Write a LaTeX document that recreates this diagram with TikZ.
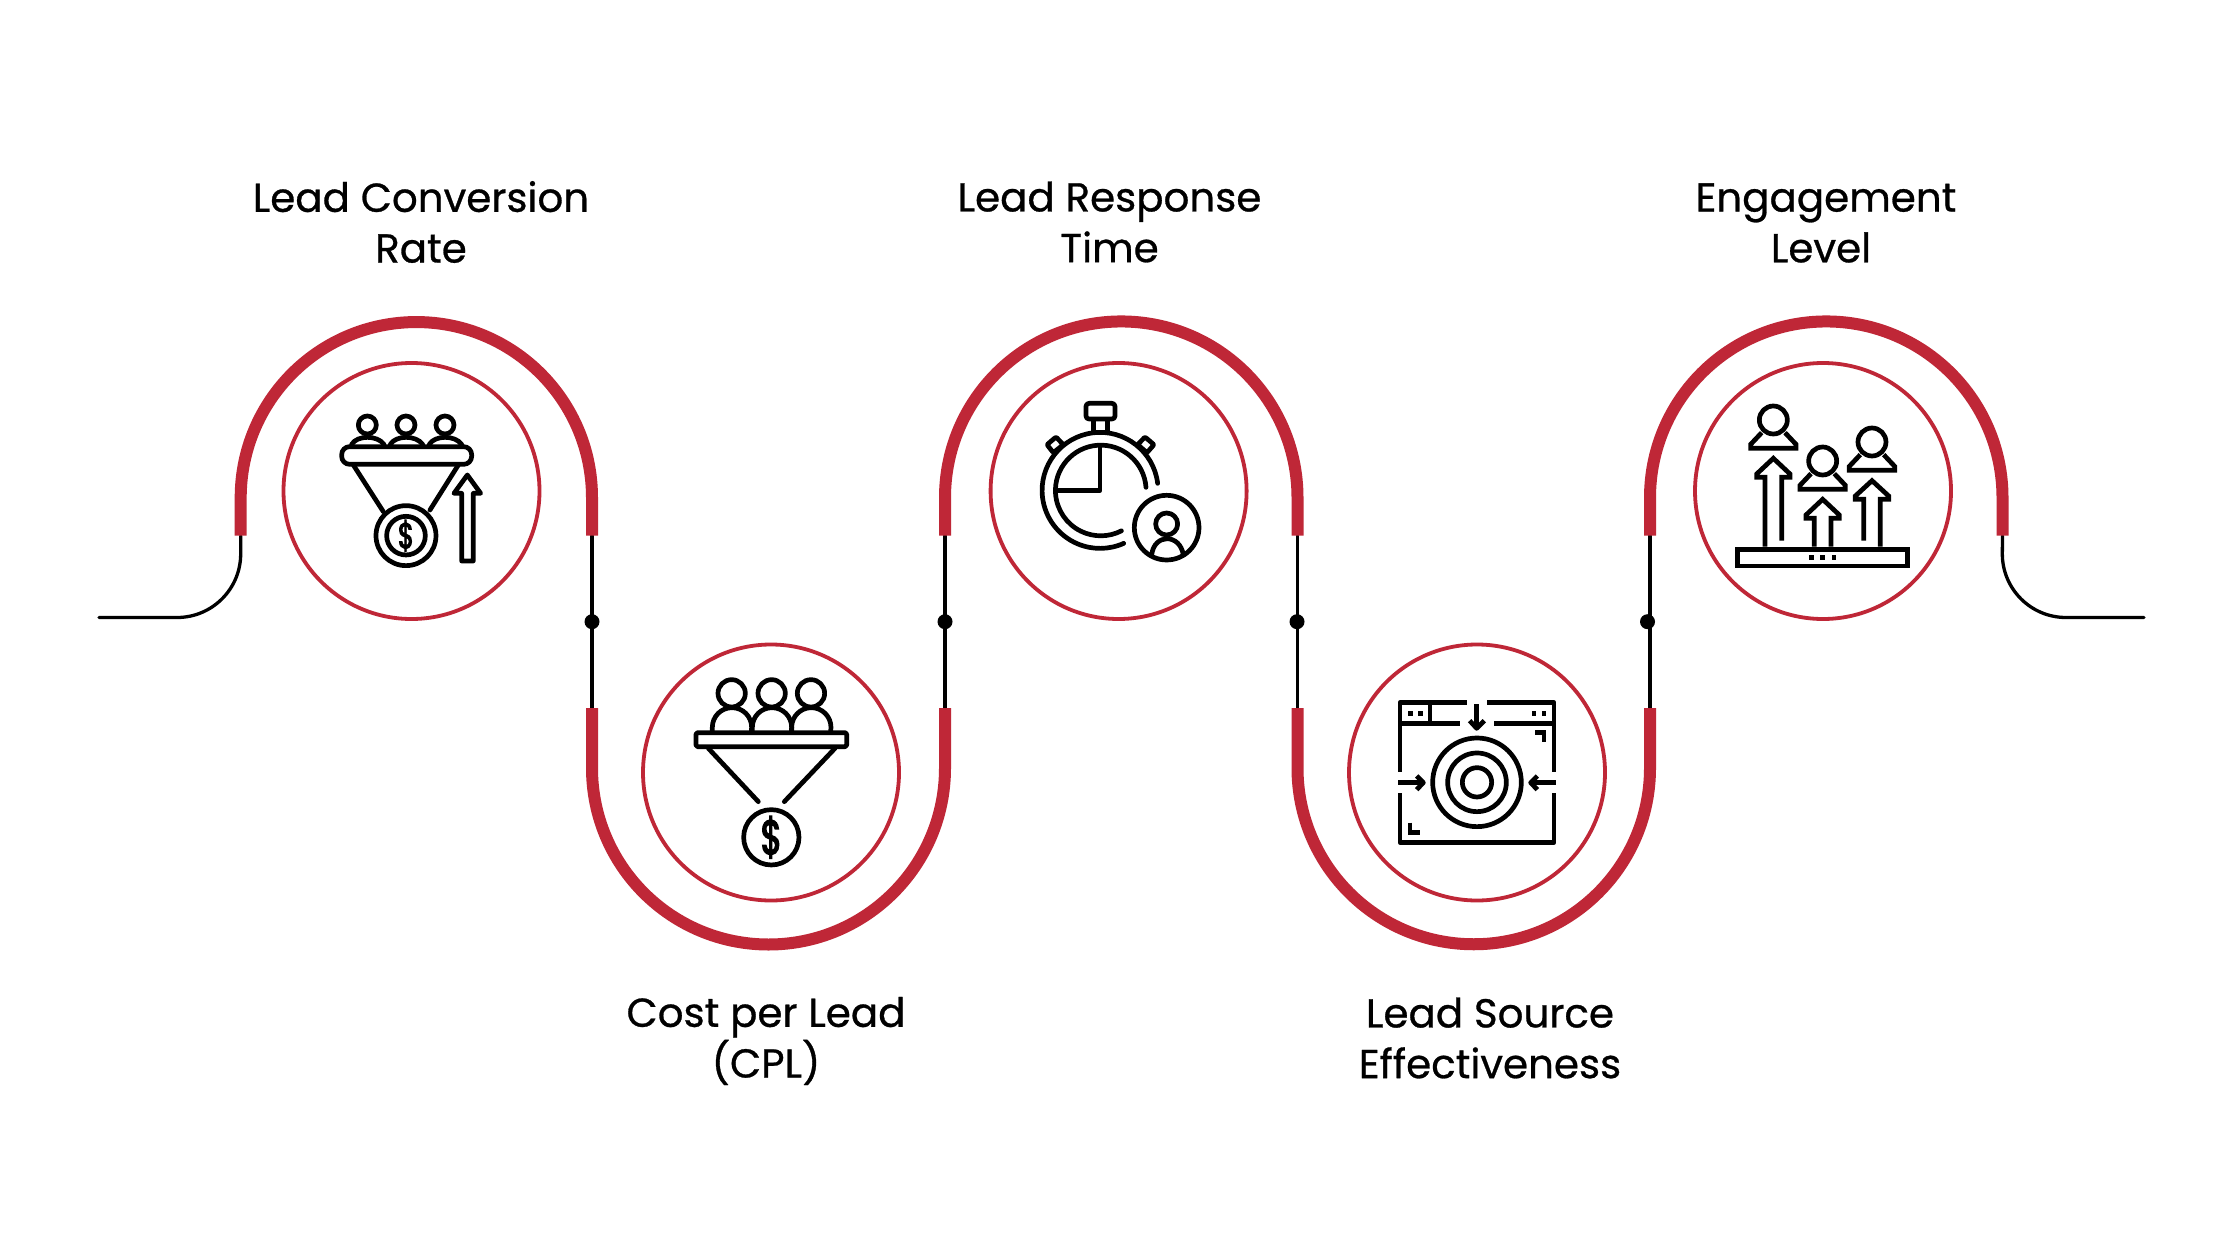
\documentclass[tikz,border=0pt]{standalone}
\usepackage{fontspec}
\setmainfont{Poppins}[FakeBold=0.7]
\newfontfamily\dollarfont{Poppins}[FakeBold=3.5]
\definecolor{wred}{HTML}{BF2737}
\tikzset{
  redarc/.style={draw=wred,line width=12pt,line cap=butt},
  thinline/.style={draw=black,line width=3.3pt,line cap=round},
  ring/.style={draw=wred,line width=3.8pt},
  junction/.style={circle,fill=black,inner sep=0pt,minimum size=15pt},
  lbl/.style={align=center,font=\fontsize{40.4}{50.7}\selectfont,text=black,inner sep=0pt},
  ico/.style={draw=black,line width=4.7pt,line join=round,line cap=round},
  zoomed/.style={x=0.3333pt,y=-0.3333pt},
}
\begin{document}
\begin{tikzpicture}[x=1pt,y=-1pt]
\useasboundingbox (0,0) rectangle (2240,1260);
\fill[white] (0,0) rectangle (2240,1260);
% named points of the wave
\coordinate (s0) at (99,617.5);
\coordinate (s1) at (2144,617.5);
\coordinate (a0) at (240.7,535.7);
\coordinate (a1) at (592,535.7);
\coordinate (a2) at (945,535.7);
\coordinate (a3) at (1297.5,535.7);
\coordinate (a4) at (1650,535.7);
\coordinate (a5) at (2002.5,535.7);
\coordinate (b1) at (592,708);
\coordinate (b2) at (945,708);
\coordinate (b3) at (1297.5,708);
\coordinate (b4) at (1650,708);
% thin connectors
\draw[thinline] (s0) -- ++(78,0) arc[start angle=90,end angle=0,radius=63.7] -- (a0);
\draw[thinline] (s1) -- ++(-78,0) arc[start angle=90,end angle=180,radius=63.7] -- (a5);
\draw[thinline] (a1) -- (b1);
\draw[thinline] (a2) -- (b2);
\draw[thinline] (a3) -- (b3);
\draw[thinline] (a4) -- (b4);
\node[junction] (j1) at (592,621.7) {};
\node[junction] (j2) at (945,621.7) {};
\node[junction] (j3) at (1297,621.7) {};
\node[junction] (j4) at (1647.5,621.7) {};
% red arches
\draw[redarc] (a0) -- ++(0,-38) arc[start angle=180,end angle=360,radius=175.65] -- (a1);
\draw[redarc] (a2) -- ++(0,-38) arc[start angle=180,end angle=360,radius=176.25] -- (a3);
\draw[redarc] (a4) -- ++(0,-38) arc[start angle=180,end angle=360,radius=176.25] -- (a5);
\draw[redarc] (b1) -- ++(0,60) arc[start angle=180,end angle=0,radius=176.5] -- (b2);
\draw[redarc] (b3) -- ++(0,60) arc[start angle=180,end angle=0,radius=176.25] -- (b4);
% rings
\node[circle,ring,minimum size=256pt,inner sep=0pt] (c1) at (411.5,491) {};
\node[circle,ring,minimum size=256pt,inner sep=0pt] (c2) at (771,772.5) {};
\node[circle,ring,minimum size=256pt,inner sep=0pt] (c3) at (1118.6,491) {};
\node[circle,ring,minimum size=256pt,inner sep=0pt] (c4) at (1477,772.5) {};
\node[circle,ring,minimum size=256pt,inner sep=0pt] (c5) at (1823,491) {};
% labels
\node[lbl] (t1) at (421,222) {Lead Conversion\\Rate};
\node[lbl] (t2) at (766,1041) {Cost per Lead\\(CPL)};
\node[lbl] (t3) at (1109.5,222) {Lead Response\\Time};
\node[lbl] (t4) at (1490,1038) {Lead Source\\Effectiveness};
\node[lbl] (t5) at (1826,223) {Engagement\\\hspace*{-10pt}Level};
% icon 1
\begin{scope}[shift={(270,350)},zoomed]
\foreach \hx in {292,408,525} {
  \draw[ico] (\hx,225) circle[radius=27];
  \draw[ico] (\hx-47,283) .. controls (\hx-30,255) and (\hx+30,255) .. (\hx+50,283);
}
\draw[ico,fill=white,rounded corners=8pt] (215,290) rectangle (605,343);
\draw[ico] (250,345) -- (340,485);
\draw[ico] (565,345) -- (480,480);
\draw[ico] (408,557) circle[radius=90];
\draw[ico] (408,557) circle[radius=58];
\node[font=\dollarfont\fontsize{36}{36}\selectfont,inner sep=0pt] (d1) at (408,557) {\scalebox{.72}[1]{\$}};
\draw[ico] (592,375) -- (632,430) -- (610,430) -- (610,633) -- (575,633) -- (575,430) -- (552,430) -- cycle;
\end{scope}
% icon 2
\begin{scope}[shift={(630,640)},zoomed]
\foreach \hx in {305,425,543} {
  \draw[ico] (\hx,160) circle[radius=41];
  \draw[ico] (\hx-58,275) -- (\hx-58,262) arc[start angle=180,end angle=360,radius=59] -- (\hx+59,275);
}
\draw[ico,fill=white,rounded corners=1.5pt] (198,278) rectangle (650,320);
\draw[ico] (235,325) -- (385,485);
\draw[ico] (615,325) -- (463,485);
\draw[ico] (424,592) circle[radius=83];
\node[font=\dollarfont\fontsize{48}{48}\selectfont,inner sep=0pt] (d2) at (424,592) {\scalebox{.72}[1]{\$}};
\end{scope}
% icon 3
\begin{scope}[shift={(1000,370)},zoomed]
\draw[ico] (473,340) arc[start angle=-7,end angle=-294,radius=174];
\draw[ico] (438,352) arc[start angle=-4,end angle=-297,radius=136];
\draw[ico,line cap=butt] (300,228) -- (300,361) -- (172,361);
\draw[ico,rounded corners=3pt] (258,100) rectangle (345,147);
\draw[ico] (280,150) -- (280,185);
\draw[ico] (322,150) -- (322,185);
\draw[ico,rounded corners=1pt] (141,224) -- (168,201) -- (190,224) -- (160,248) -- cycle;
\draw[ico,rounded corners=1pt] (462,224) -- (435,201) -- (413,224) -- (441,248) -- cycle;
\draw[ico] (500,473) circle[radius=97];
\draw[ico] (500,462) circle[radius=33];
\draw[ico] (455,555) .. controls (462,490) and (540,490) .. (550,555);
\end{scope}
% icon 4
\begin{scope}[shift={(1370,680)},zoomed]
\draw[ico,line cap=butt] (90,275) -- (90,68) -- (292,68);
\draw[ico,line cap=butt] (352,68) -- (552,68) -- (552,275);
\draw[ico,line cap=butt] (90,340) -- (90,487) -- (552,487) -- (552,340);
\draw[ico,line cap=butt] (90,130) -- (270,130);
\draw[ico,line cap=butt] (372,130) -- (552,130);
\draw[ico,line cap=butt] (180,68) -- (180,130);
\foreach \dx in {122,152,492,522} \fill (\dx-7,93) rectangle (\dx+7,107);
\draw[ico,line cap=butt] (320,72) -- (320,142);
\draw[ico,line cap=butt] (299,122) -- (320,145) -- (343,122);
\draw[ico,line cap=butt] (85,308) -- (155,308);
\draw[ico,line cap=butt] (140,288) -- (160,308) -- (140,329);
\draw[ico,line cap=butt] (557,308) -- (487,308);
\draw[ico,line cap=butt] (502,288) -- (482,308) -- (502,329);
\draw[ico] (321,307) circle[radius=133];
\draw[ico] (321,307) circle[radius=88];
\draw[ico] (321,307) circle[radius=44];
\draw[ico,line cap=butt,line join=miter] (495,158) -- (522,158) -- (522,187);
\draw[ico,line cap=butt,line join=miter] (120,428) -- (120,457) -- (150,457);
\end{scope}
% icon 5
\begin{scope}[shift={(1710,380)},zoomed]
\draw[ico,line join=miter] (83,508) rectangle (593,558);
\foreach \dx in {304,338,372} \fill (\dx-7,526) rectangle (\dx+7,540);
\foreach \ox/\oy in {0/0,148/123,296/66} {
  \begin{scope}[shift={(\ox,\oy)}]
  \draw[ico] (190,120) circle[radius=42];
  \draw[ico,line cap=butt,line join=miter] (155,158) -- (122,193) -- (122,205) -- (258,205) -- (258,193) -- (225,158);
  \end{scope}
}
\draw[ico,line cap=butt,line join=miter] (165,500) -- (165,292) -- (140,292) -- (140,282) -- (190,235) -- (240,282) -- (240,292) -- (215,292) -- (215,482);
\draw[ico,line cap=butt,line join=miter] (313,500) -- (313,415) -- (288,415) -- (288,405) -- (338,358) -- (388,405) -- (388,415) -- (363,415) -- (363,500);
\draw[ico,line cap=butt,line join=miter] (461,482) -- (461,358) -- (436,358) -- (436,348) -- (486,302) -- (536,348) -- (536,358) -- (511,358) -- (511,500);
\end{scope}
\end{tikzpicture}
\end{document}
